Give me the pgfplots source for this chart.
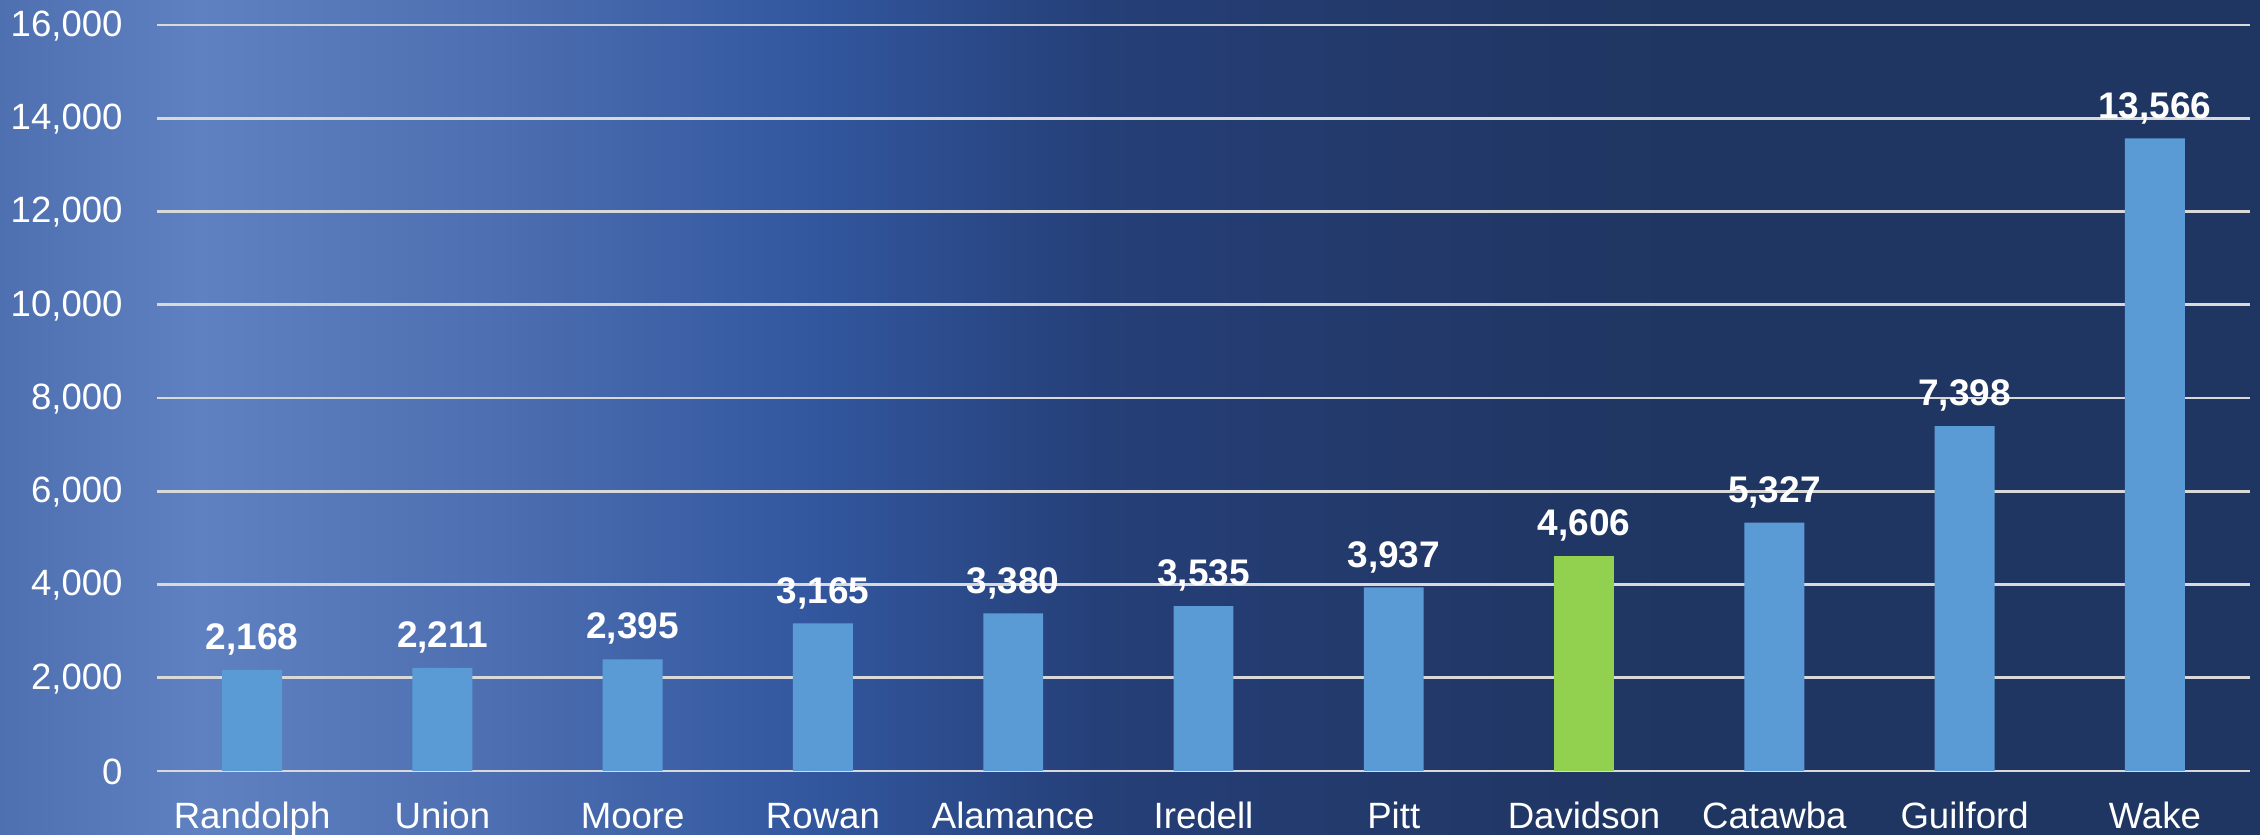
\documentclass[border=0pt]{standalone}
\usepackage{pgfplots}
\pgfplotsset{compat=1.18}
\usepackage{fontspec}
\setmainfont{Liberation Sans}
\definecolor{c0}{HTML}{4F70B0}
\definecolor{c1}{HTML}{5F81C1}
\definecolor{c2}{HTML}{4D6EB0}
\definecolor{c3}{HTML}{3358A0}
\definecolor{c4}{HTML}{253F78}
\definecolor{c5}{HTML}{22396A}
\definecolor{c6}{HTML}{1F3662}
\definecolor{barblue}{HTML}{5B9BD5}
\definecolor{bargreen}{HTML}{92D050}
\definecolor{gridgray}{HTML}{D9D9D9}
\pgfdeclarehorizontalshading{bgshade}{100bp}{color(0bp)=(c0); color(25bp)=(c0); color(29.42bp)=(c1); color(36.06bp)=(c2); color(42.7bp)=(c3); color(49.34bp)=(c4); color(55.97bp)=(c5); color(62.61bp)=(c6); color(75bp)=(c6); color(100bp)=(c6)}
\begin{document}
\begin{tikzpicture}
\shade[shading=bgshade] (-78.5pt,-32pt) rectangle (1051.5pt,385.5pt);
\begin{axis}[
  at={(0,0)}, anchor=south west,
  scale only axis, width=1046.5pt, height=373pt,
  ymin=0, ymax=16000, xmin=-0.5, xmax=10.5,
  ytick={0,2000,...,16000},
  scaled y ticks=false,
  xtick={0,...,10},
  xticklabels={Randolph,Union,Moore,Rowan,Alamance,Iredell,Pitt,Davidson,Catawba,Guilford,Wake},
  ymajorgrids, grid style={color=gridgray, line width=1.4pt},
  axis line style={draw=none}, major tick length=0pt, tick style={draw=none},
  /pgf/number format/.cd, 1000 sep={,}, assume math mode=true, /pgfplots/.cd,
  ticklabel style={font=\fontsize{18.3}{20}\selectfont, text=white},
  yticklabel style={anchor=east, inner sep=0pt, xshift=-17pt, yshift=-0.5pt},
  xticklabel style={anchor=base, inner sep=0pt, yshift=-28.5pt},
  ybar, bar width=0.315, bar shift=0pt,
  nodes near coords,
  nodes near coords style={font=\bfseries\fontsize{18.5}{20}\selectfont, text=white, inner sep=0pt, text depth=0pt, yshift=10pt},
]
\addplot[fill=barblue, draw=none] coordinates {(0,2168) (1,2211) (2,2395) (3,3165) (4,3380) (5,3535) (6,3937) (8,5327) (9,7398) (10,13566)};
\addplot[fill=bargreen, draw=none] coordinates {(7,4606)};
\end{axis}
\pgfresetboundingbox
\useasboundingbox (-78.5pt,-32pt) rectangle (1051.5pt,385.5pt);
\end{tikzpicture}
\end{document}
